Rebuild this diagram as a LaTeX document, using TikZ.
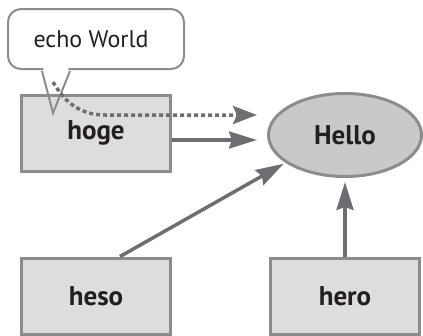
\documentclass[tikz,border=0pt]{standalone}
\usepackage{fontspec}
\setsansfont{PT Sans}
\usepackage{tikz}
\usetikzlibrary{arrows.meta, positioning, shapes.geometric}
\definecolor{ink}{HTML}{231F20}
\definecolor{rim}{HTML}{8C8C8E}
\definecolor{boxfill}{HTML}{DCDDDF}
\definecolor{ovalfill}{HTML}{C9C9CB}
\definecolor{wire}{HTML}{6D6E71}
\tikzset{
  >={Stealth[length=28pt, width=17pt, inset=3pt]},
  label font/.style={font=\sffamily\bfseries\fontsize{27}{32}\selectfont, text=ink},
  module/.style={draw=rim, fill=boxfill, line width=3pt, label font,
    minimum width=149pt, minimum height=76pt},
  target/.style={ellipse, draw=rim, fill=ovalfill, line width=3pt, label font,
    minimum width=153pt, minimum height=83pt},
  bubble/.style={draw=rim, fill=white, line width=2pt, rounded corners=13pt,
    font=\sffamily\fontsize{24}{28}\selectfont, text=ink,
    minimum width=176pt, minimum height=60pt},
  link/.style={->, line width=3.5pt, color=wire},
  calllink/.style={link, dash pattern=on 4pt off 3pt,
    >={Stealth[length=24pt, width=18pt, inset=4pt]}},
}
\begin{document}
\begin{tikzpicture}[x=1pt, y=-1pt]
  \useasboundingbox (0,0) rectangle (423,335);
  % speech bubble over hoge
  \node[bubble] (say) at (96,39) {\hspace*{-10pt}echo World};
  \coordinate (tip) at (53,113);
  \fill[white] ([xshift=-53pt, yshift=3pt]say.south) -- (tip)
    -- ([xshift=-27pt, yshift=3pt]say.south) -- cycle;
  % the four nodes
  \node[module] (hoge) at (96,133) {hoge};
  \node[target] (hello) at (345,135) {Hello};
  \node[module] (heso) at (96,296) {heso};
  \node[module] (hero) at (345,296) {hero};
  \draw[draw=rim, line width=2pt, line join=miter]
    ([xshift=-54pt, yshift=-1pt]say.south) -- (tip) -- ([xshift=-26pt, yshift=-1pt]say.south);
  % calls into Hello
  \coordinate (start) at (53,82);
  \coordinate (bend) at (105,115);
  \draw[calllink, shorten >=10pt] (start) to[out=-60, in=180] (bend) -- (bend -| hello.west);
  \draw[link, shorten >=10pt] ([yshift=-7pt]hoge.east) -- ([yshift=-7pt]hoge.east -| hello.west);
  \draw[link, shorten >=2pt] ([xshift=24pt]heso.north) -- (hello.205);
  \draw[link, shorten >=4pt] (hero.north) -- (hello.south);
\end{tikzpicture}
\end{document}
